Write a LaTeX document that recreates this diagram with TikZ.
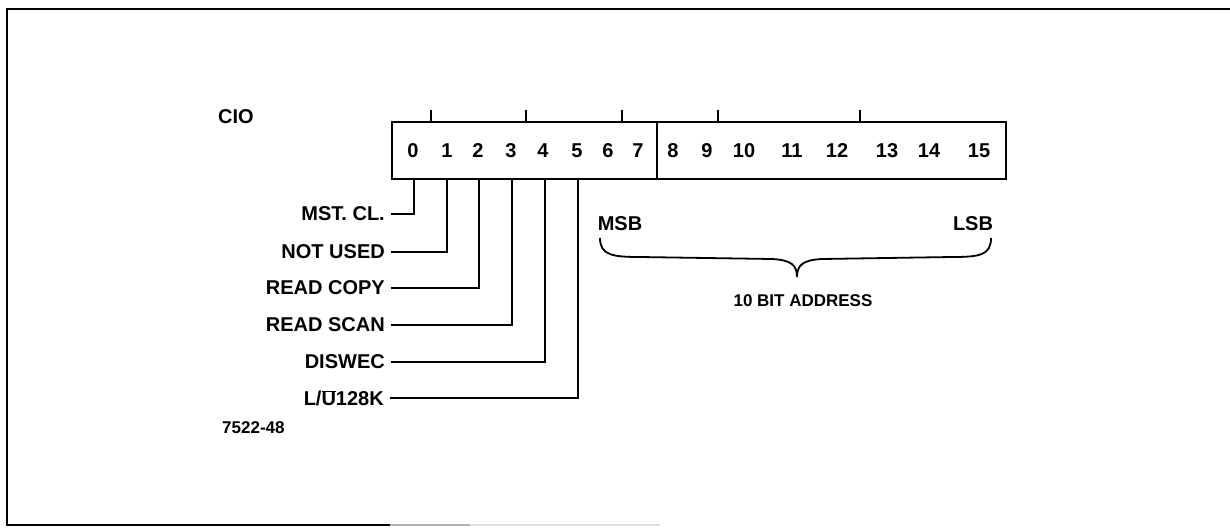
\documentclass[tikz,border=0pt]{standalone}
\usepackage{fontspec}
\setmainfont{Liberation Sans}
\begin{document}
\begin{tikzpicture}[x=1pt,y=-1pt,
  frame/.style={line width=1.8pt},
  regbox/.style={draw,line width=2.6pt,inner sep=0pt},
  lead/.style={line width=1.8pt},
  bitnum/.style={font=\fontsize{20}{22}\selectfont\bfseries,inner sep=0pt},
  fieldlab/.style={font=\fontsize{20}{22}\selectfont\bfseries,inner sep=0pt,anchor=east,text depth=0pt},
  smalllab/.style={font=\fontsize{17}{19}\selectfont\bfseries,inner sep=0pt},
  bracestyle/.style={line width=1.8pt}]
\useasboundingbox (0,0) rectangle (1230,527);
% frame
\draw[frame] (1230,9) -- (7,9) -- (7,525) -- (390,525);
\draw[frame,gray!60] (390,525) -- (470,525);
\draw[frame,gray!25] (470,525) -- (660,525);
% register
\node[regbox,minimum width=265pt,minimum height=57pt] (hi) at (524.5,150.5) {};
\node[regbox,minimum width=349pt,minimum height=57pt] (lo) at (831.5,150.5) {};
% top ticks
\foreach \tx [count=\i] in {431,526,622,718,860}{
  \coordinate (t\i) at (\tx,110);
  \draw[lead] (t\i) -- (t\i |- hi.north);
}
% bit numbers
\foreach \bx/\bn [count=\i] in {413/0,447/1,478/2,511/3,543/4,577/5,608/6,638/7,673/8,707/9,744/10,792/11,837/12,887/13,929/14,979/15}{
  \node[bitnum] (n\i) at (\bx,151) {\bn};
}
% labels
\node[fieldlab,anchor=west] (cio) at (218,117) {CIO};
\node[fieldlab] (l0) at (385,214) {MST. CL.};
\node[fieldlab] (l1) at (385,252) {NOT USED};
\node[fieldlab] (l2) at (385,288) {READ COPY};
\node[fieldlab] (l3) at (385,325) {READ SCAN};
\node[fieldlab] (l4) at (385,362) {DISWEC};
\node[fieldlab] (l5) at (384,398) {L/$\overline{\mbox{U}}$128K};
\node[smalllab,anchor=west] (code) at (222,428) {7522-48};
% leads
\foreach \lx [count=\i from 0] in {414,447,479,512,545,578}{
  \coordinate (b\i) at (\lx,0);
  \draw[lead] (b\i |- hi.south) |- ([xshift=6pt]l\i.east);
}
% MSB / LSB brace
\node[fieldlab,anchor=center] (msb) at (620,224) {MSB};
\node[fieldlab,anchor=center] (lsb) at (973,224) {LSB};
\coordinate (bl) at (600,238);
\coordinate (br) at (991,238);
\coordinate (bt) at (797,277);
\draw[bracestyle] (bl) .. controls (600,255) and (612,257) .. (640,257)
  -- (772,259) .. controls (791,260) and (797,265) .. (bt)
  .. controls (797,265) and (803,260) .. (822,259)
  -- (952,257) .. controls (980,257) and (991,255) .. (br);
\node[smalllab,font=\fontsize{17}{19}\selectfont\bfseries] (addr) at (803,301) {10 BIT ADDRESS};
\end{tikzpicture}
\end{document}
